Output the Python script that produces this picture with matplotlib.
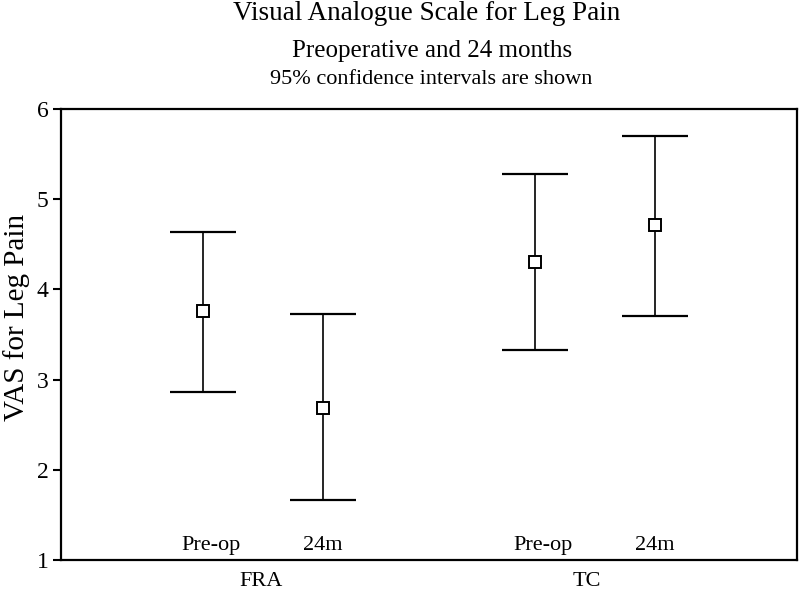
import matplotlib
matplotlib.use("Agg")
import matplotlib.pyplot as plt
import numpy as np

plt.rcParams['font.family'] = ['Liberation Serif', 'DejaVu Serif']

# Data
groups = ["FRA", "TC"]
timepoints = ["Pre-op", "24m", "Pre-op", "24m"]
means = [3.76, 2.69, 4.30, 4.71]
lower = [2.86, 1.67, 3.33, 3.71]
upper = [4.64, 3.73, 5.28, 5.70]
yticks = [1, 2, 3, 4, 5, 6]

positions = [1.0, 2.0, 3.767, 4.767]
label_offsets = [0.067, 0.0, 0.067, 0.0]
group_pos = [1.48, 4.2]

fig = plt.figure(figsize=(7.99, 5.90), dpi=100)
ax = fig.add_axes([61/799, 1 - 560/590, (797-61)/799, (560-109)/590])

m = np.array(means)
yerr = np.vstack([m - np.array(lower), np.array(upper) - m])
ax.errorbar(positions, means, yerr=yerr, fmt='none', ecolor='black',
            elinewidth=1.2, capsize=24, capthick=1.6)
ax.plot(positions, means, linestyle='none', marker='s', markersize=8.5,
        markerfacecolor='white', markeredgecolor='black', markeredgewidth=1.4, zorder=3)

ax.set_xlim(-0.183, 5.95)
ax.set_ylim(1, 6)
ax.set_yticks(yticks)
ax.set_yticklabels([str(t) for t in yticks], fontsize=17)
ax.set_xticks(group_pos)
ax.set_xticklabels(groups, fontsize=16)
ax.tick_params(axis='x', length=0, pad=9)
ax.tick_params(axis='y', direction='out', length=6, width=1.5, pad=3)
for s in ax.spines.values():
    s.set_linewidth(1.6)

trans = ax.get_xaxis_transform()
for p, off, lab in zip(positions, label_offsets, timepoints):
    ax.text(p + off, 0.033, lab, transform=trans, ha='center', va='center', fontsize=16)

ax.set_ylabel("VAS for Leg Pain", fontsize=21)
ax.yaxis.set_label_coords((30 - 61) / 736, (560 - 317) / 451)

fig.text(427/799, 1 - 20/590, "Visual Analogue Scale for Leg Pain", ha='center', va='baseline', fontsize=19.5)
fig.text(432/799, 1 - 57/590, "Preoperative and 24 months", ha='center', va='baseline', fontsize=18)
fig.text(431/799, 1 - 84/590, "95% confidence intervals are shown", ha='center', va='baseline', fontsize=16)

fig.savefig("out.png", dpi=100)
